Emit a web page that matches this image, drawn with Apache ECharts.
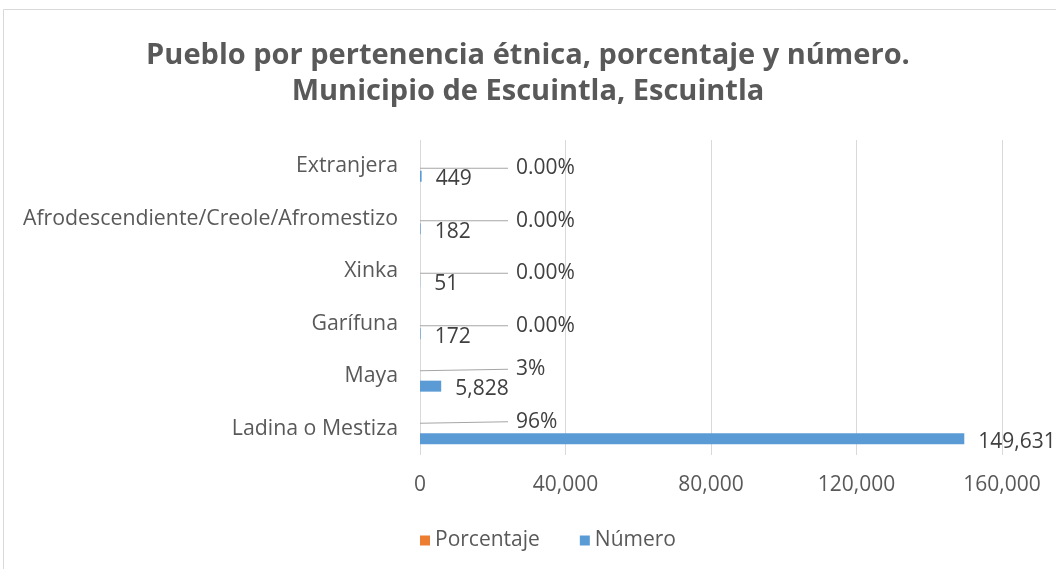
<!DOCTYPE html>
<html>
<head>
<meta charset="utf-8">
<script src="https://cdn.jsdelivr.net/npm/echarts@6/dist/echarts.min.js"></script>
<style>
  html, body { margin: 0; padding: 0; background: #fff; }
  #chart { width: 1056px; height: 569px; }
</style>
</head>
<body>
<div id="chart"></div>
<script>
// datos (de abajo hacia arriba)
const categories = ['Ladina o Mestiza', 'Maya', 'Garífuna', 'Xinka', 'Afrodescendiente/Creole/Afromestizo', 'Extranjera'];
const numero = [149631, 5828, 172, 51, 182, 449];
const porcentaje = [0.96, 0.03, 0, 0, 0, 0];
const xTicks = [0, 40000, 80000, 120000, 160000];

const FONT = 'Open Sans';
const TXT = '#595959';

let myChart = echarts.init(document.getElementById('chart'));

let option = {
    animation: false,
    textStyle: { fontFamily: FONT },
    graphic: [
        {
            type: 'rect',
            shape: { x: 3.5, y: 9.5, width: 1100, height: 600 },
            style: { fill: 'none', stroke: '#d9d9d9', lineWidth: 1 }
        }
    ],
    title: {
        text: 'Pueblo por pertenencia étnica, porcentaje y número.\nMunicipio de Escuintla, Escuintla',
        left: 'center',
        top: 33,
        textStyle: {
            fontFamily: FONT,
            fontSize: 29,
            fontWeight: 'bold',
            color: TXT,
            lineHeight: 36
        }
    },
    legend: {
        data: ['Porcentaje', 'Número'],
        top: 525,
        left: 415,
        icon: 'rect',
        itemWidth: 10,
        itemHeight: 10,
        itemGap: 40,
        textStyle: { fontFamily: FONT, fontSize: 21, color: TXT }
    },
    grid: {
        left: 420,
        right: 54,
        top: 140,
        bottom: 114
    },
    xAxis: {
        type: 'value',
        min: xTicks[0],
        max: xTicks[xTicks.length - 1],
        interval: 40000,
        axisLine: { show: false },
        axisTick: { show: false },
        axisLabel: {
            fontFamily: FONT,
            fontSize: 21,
            color: TXT,
            margin: 20,
            formatter: (v) => v.toLocaleString('en-US')
        },
        splitLine: { lineStyle: { color: '#d9d9d9' } }
    },
    yAxis: [
        {
            type: 'category',
            data: categories,
            axisLine: { show: false },
            axisTick: { show: false },
            axisLabel: {
                fontFamily: FONT,
                fontSize: 21.3,
                color: TXT,
                margin: 22
            }
        },
        {
            // eje oculto para centrar la serie de porcentaje
            type: 'category',
            data: categories,
            show: false
        }
    ],
    series: [
        {
            // hueco para desplazar las barras de número hacia abajo
            name: '_hueco',
            type: 'bar',
            data: categories.map(() => '-'),
            barWidth: 11,
            barGap: '80%',
            silent: true
        },
        {
            name: 'Número',
            type: 'bar',
            data: numero,
            barWidth: 11,
            barGap: '80%',
            itemStyle: { color: '#5B9BD5' },
            label: {
                show: true,
                position: 'right',
                distance: 14,
                offset: [0, 3],
                fontFamily: FONT,
                fontSize: 21,
                color: '#404040',
                formatter: (p) => p.value.toLocaleString('en-US')
            }
        },
        {
            name: 'Porcentaje',
            type: 'bar',
            yAxisIndex: 1,
            data: porcentaje,
            barWidth: 11,
            itemStyle: { color: '#ED7D31' },
            label: {
                show: true,
                position: 'right',
                distance: 0,
                padding: [0, 0, 0, 8],
                backgroundColor: 'rgba(255,255,255,0)',
                fontFamily: FONT,
                fontSize: 21,
                color: '#404040',
                formatter: (p) => p.value > 0 ? Math.round(p.value * 100) + '%' : '0.00%'
            },
            labelLine: {
                show: true,
                lineStyle: { color: '#a6a6a6', width: 1.2 }
            },
            labelLayout: (params) => {
                let cy = params.rect.y + params.rect.height / 2;
                return {
                    x: 508,
                    y: cy + (porcentaje[params.dataIndex] > 0 ? -7 : 2),
                    align: 'left',
                    verticalAlign: 'middle'
                };
            }
        }
    ]
};

myChart.setOption(option);
</script>
</body>
</html>
